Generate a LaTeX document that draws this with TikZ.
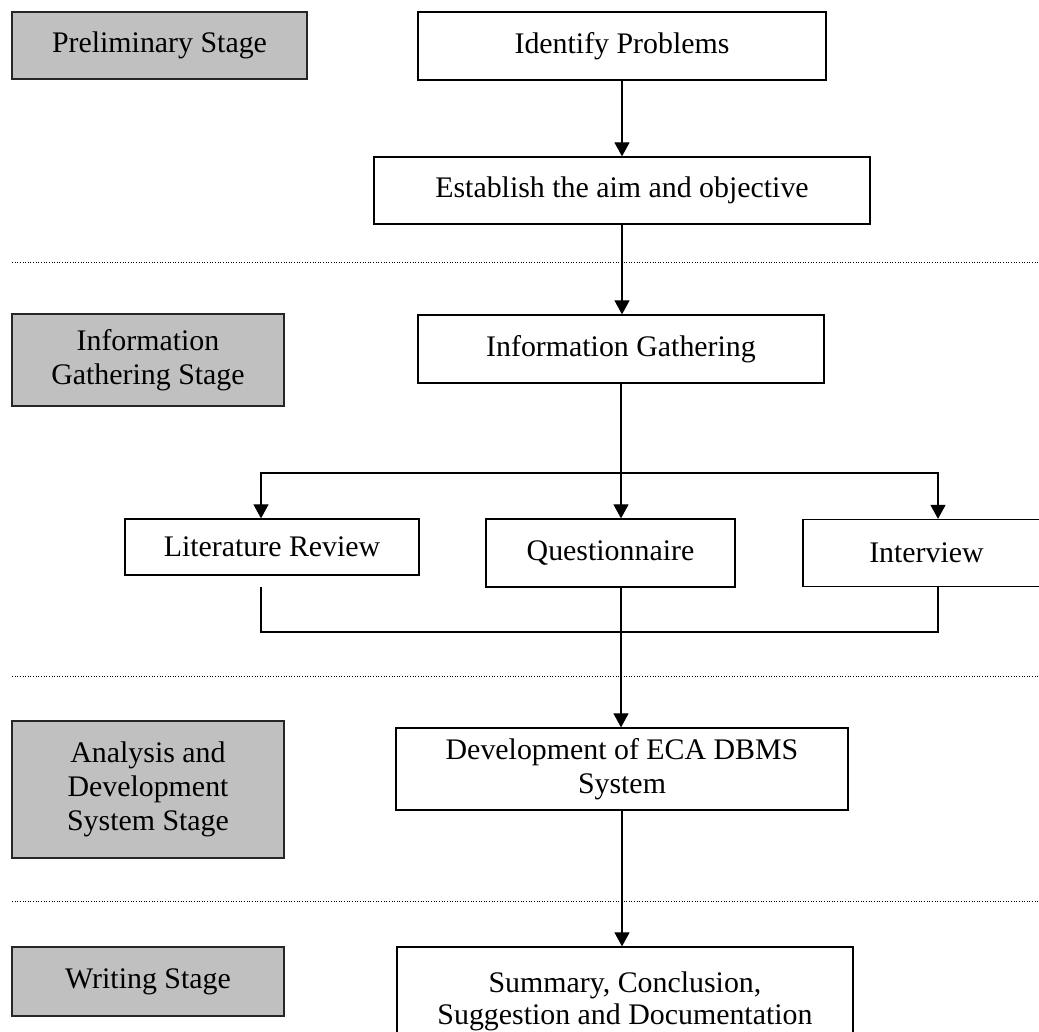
\documentclass[tikz,border=0pt]{standalone}
\usepackage{fontspec}
\setmainfont{Liberation Serif}
\usetikzlibrary{arrows.meta}
\definecolor{stagegray}{HTML}{C0C0C0}
\tikzset{
    stage/.style={draw=black!85, line width=1.1pt, fill=stagegray, align=center, inner sep=0pt},
    task/.style={draw, line width=0.7pt, align=center, inner sep=0pt},
    arr/.style={line width=0.7pt, -{Triangle[width=0.3cm,length=0.28cm]}},
    link/.style={line width=0.7pt},
    stageline/.style={line width=0.5pt, dash pattern=on 0.5pt off 1pt}
}

\begin{document}
\begin{tikzpicture}[font=\fontsize{17}{19.4}\selectfont]
    \path[use as bounding box, clip] (0,0) rectangle (20.78,20.64);

    % Stage labels on the left
    \node[stage, minimum width=5.90cm, minimum height=1.34cm] (prelim) at (3.19,19.73) {Preliminary Stage};
    \node[stage, minimum width=5.44cm, minimum height=1.84cm] (infostage) at (2.96,13.44) {Information\\Gathering Stage};
    \node[stage, minimum width=5.44cm, minimum height=2.74cm] (analysis) at (2.96,4.85) {Analysis and\\Development\\System Stage};
    \node[stage, minimum width=5.44cm, minimum height=1.38cm] (writing) at (2.96,1.01) {Writing Stage};

    % Dotted lines between the stages
    \foreach \y in {15.40, 7.12, 2.62} {
        \draw[stageline] (0.24,\y) -- (20.78,\y);
    }

    % Steps of the work
    \node[task, minimum width=8.16cm, minimum height=1.36cm] (identify) at (12.44,19.72) {Identify Problems};
    \node[task, minimum width=9.92cm, minimum height=1.34cm] (establish) at (12.44,16.83) {Establish the aim and objective};
    \node[task, minimum width=8.12cm, minimum height=1.36cm] (gather) at (12.42,13.66) {Information Gathering};
    \node[task, minimum width=5.88cm, minimum height=1.12cm] (litrev) at (5.44,9.70) {Literature Review};
    \node[task, minimum width=4.98cm, minimum height=1.36cm] (quest) at (12.21,9.58) {Questionnaire};
    \node[task, minimum width=4.94cm, minimum height=1.34cm] (interview) at (18.53,9.58) {Interview};
    \node[task, minimum width=9.04cm, minimum height=1.64cm] (develop) at (12.44,5.26) {Development of ECA DBMS\\System};
    \node[task, minimum width=9.12cm, minimum height=2.16cm, font=\fontsize{17}{18.2}\selectfont] (summary) at (12.50,0.62) {Summary, Conclusion,\\Suggestion and Documentation};

    % Branch and merge points
    \coordinate (split) at (12.42,11.18);
    \coordinate (merge) at (12.42,8.00);
    \coordinate (litout) at (5.22,8.90);

    % Connectors
    \draw[arr] (identify.south) -- (establish.north);
    \draw[arr] (establish.south) -- (establish.south |- gather.north);
    \draw[arr] (gather.south) -- (gather.south |- quest.north);
    \draw[arr] (split) -| ([xshift=-0.22cm]litrev.north);
    \draw[arr] (split) -| ([xshift=0.23cm]interview.north);
    \draw[link] (litout) |- (merge);
    \draw[link] ([xshift=0.23cm]interview.south) |- (merge);
    \draw[arr] (gather.south |- quest.south) -- (gather.south |- develop.north);
    \draw[arr] (develop.south) -- (develop.south |- summary.north);
\end{tikzpicture}
\end{document}
